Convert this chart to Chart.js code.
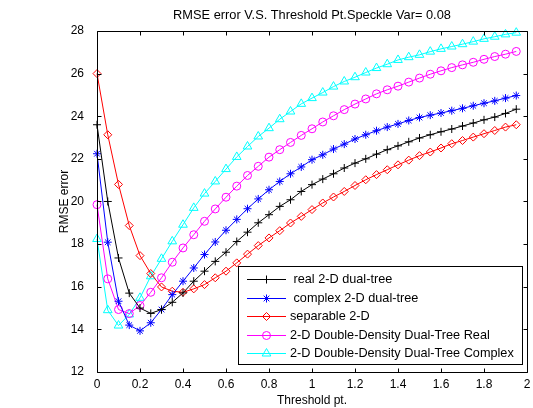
<!DOCTYPE html>
<html>
<head>
<meta charset="utf-8">
<script src="https://cdn.jsdelivr.net/npm/chart.js"></script>
<style>
  html, body { margin: 0; padding: 0; background: #fff; }
  canvas { display: block; }
</style>
</head>
<body>
<canvas id="chart_rmse" width="533" height="408"></canvas>
<script>
// threshold points (x) and RMSE per method
const thresholds = [0, 0.05, 0.1, 0.15, 0.2, 0.25, 0.3, 0.35, 0.4, 0.45,
  0.5, 0.55, 0.6, 0.65, 0.7, 0.75, 0.8, 0.85, 0.9, 0.95,
  1, 1.05, 1.1, 1.15, 1.2, 1.25, 1.3, 1.35, 1.4, 1.45,
  1.5, 1.55, 1.6, 1.65, 1.7, 1.75, 1.8, 1.85, 1.9, 1.95];

const realDualTree = [23.6, 20.0, 17.35, 15.7, 15.0, 14.75, 14.93, 15.27, 15.71, 16.26,
  16.73, 17.19, 17.62, 18.12, 18.56, 19.0, 19.38, 19.77, 20.08, 20.47,
  20.79, 21.05, 21.3, 21.57, 21.8, 22.0, 22.22, 22.43, 22.61, 22.8,
  22.98, 23.13, 23.27, 23.4, 23.54, 23.68, 23.83, 23.96, 24.13, 24.33];

const complexDualTree = [22.24, 18.09, 15.32, 14.2, 13.93, 14.31, 14.93, 15.63, 16.26, 16.88,
  17.51, 18.1, 18.65, 19.16, 19.66, 20.12, 20.55, 20.94, 21.3, 21.62,
  21.96, 22.19, 22.46, 22.69, 22.93, 23.13, 23.32, 23.49, 23.64, 23.8,
  23.94, 24.05, 24.15, 24.26, 24.37, 24.49, 24.61, 24.72, 24.85, 24.97];

const separable2D = [26.0, 23.13, 20.8, 18.87, 17.46, 16.62, 15.99, 15.79, 15.74, 15.9,
  16.1, 16.42, 16.73, 17.12, 17.53, 17.93, 18.29, 18.63, 18.99, 19.3,
  19.62, 19.93, 20.21, 20.47, 20.75, 21.02, 21.26, 21.49, 21.72, 21.94,
  22.15, 22.32, 22.51, 22.71, 22.86, 23.02, 23.18, 23.33, 23.49, 23.6];

const ddReal = [19.85, 16.37, 14.93, 14.74, 15.12, 15.74, 16.42, 17.15, 17.82, 18.44,
  19.07, 19.65, 20.2, 20.72, 21.22, 21.65, 22.08, 22.43, 22.77, 23.1,
  23.41, 23.73, 24.02, 24.31, 24.57, 24.81, 25.05, 25.24, 25.41, 25.6,
  25.79, 25.97, 26.13, 26.28, 26.41, 26.53, 26.67, 26.8, 26.91, 27.04];

const ddComplex = [18.24, 14.9, 14.18, 14.7, 15.48, 16.49, 17.31, 18.13, 18.91, 19.7,
  20.37, 20.94, 21.52, 22.09, 22.58, 23.05, 23.44, 23.86, 24.22, 24.58,
  24.85, 25.11, 25.39, 25.63, 25.83, 26.05, 26.26, 26.44, 26.64, 26.77,
  26.88, 27.03, 27.16, 27.27, 27.38, 27.5, 27.63, 27.73, 27.84, 27.92];

const seriesLabels = [' real 2-D dual-tree', ' complex 2-D dual-tree', 'separable 2-D',
  '2-D Double-Density Dual-Tree Real', '2-D Double-Density Dual-Tree Complex'];

const xTickLabels = ['0', '0.2', '0.4', '0.6', '0.8', '1', '1.2', '1.4', '1.6', '1.8', '2'];
const yTickLabels = ['12', '14', '16', '18', '20', '22', '24', '26', '28'];

const FONT = '"Liberation Sans", Arial, sans-serif';

function pts(values) {
  return values.map((v, i) => ({ x: thresholds[i], y: v }));
}

function series(label, values, color, style, radius) {
  return {
    label: label,
    data: pts(values),
    borderColor: color,
    backgroundColor: color,
    borderWidth: 1,
    pointStyle: style,
    pointRadius: radius,
    pointBorderWidth: 1,
    pointBorderColor: color,
    pointBackgroundColor: 'rgba(0,0,0,0)',
    tension: 0,
    fill: false,
    clip: false
  };
}

// MATLAB style frame with inward ticks on all four sides
const boxTicks = {
  id: 'boxTicks',
  afterDatasetsDraw(chart) {
    const { ctx, chartArea: a, scales: { x, y } } = chart;
    const L = Math.round(a.left) + 0.5, R = Math.round(a.right) + 0.5;
    const T = Math.round(a.top) + 0.5, B = Math.round(a.bottom) + 0.5;
    ctx.save();
    ctx.strokeStyle = '#000';
    ctx.lineWidth = 1;
    ctx.beginPath();
    ctx.rect(L, T, R - L, B - T);
    x.ticks.forEach(t => {
      const px = Math.round(x.getPixelForValue(t.value)) + 0.5;
      ctx.moveTo(px, B); ctx.lineTo(px, B - 4);
      ctx.moveTo(px, T); ctx.lineTo(px, T + 4);
    });
    y.ticks.forEach(t => {
      const py = Math.round(y.getPixelForValue(t.value)) + 0.5;
      ctx.moveTo(L, py); ctx.lineTo(L + 4, py);
      ctx.moveTo(R, py); ctx.lineTo(R - 4, py);
    });
    ctx.stroke();
    ctx.restore();
  }
};

// boxed legend in the lower right corner of the axes
const boxLegend = {
  id: 'boxLegend',
  afterDatasetsDraw(chart) {
    const { ctx, chartArea: a } = chart;
    const w = 284, h = 98;
    const left = Math.round(a.right - 5 - w), top = Math.round(a.bottom - 8 - h);
    ctx.save();
    ctx.fillStyle = '#fff';
    ctx.fillRect(left, top, w, h);
    ctx.strokeStyle = '#000';
    ctx.lineWidth = 1;
    ctx.strokeRect(left + 0.5, top + 0.5, w, h);
    ctx.font = '12.7px ' + FONT;
    ctx.textBaseline = 'middle';
    ctx.textAlign = 'left';
    const drawPoint = Chart.helpers && Chart.helpers.drawPoint;
    chart.data.datasets.forEach((ds, i) => {
      const cy = Math.round(top + 13 + i * 18.6) + 0.5;
      ctx.strokeStyle = ds.borderColor;
      ctx.lineWidth = 1;
      ctx.beginPath();
      ctx.moveTo(left + 9, cy);
      ctx.lineTo(left + 48, cy);
      ctx.stroke();
      if (drawPoint) {
        ctx.fillStyle = 'rgba(0,0,0,0)';
        drawPoint(ctx, { pointStyle: ds.pointStyle, radius: ds.pointRadius, borderWidth: 1, rotation: 0 },
          left + 28.5, cy);
      }
      ctx.fillStyle = '#000';
      ctx.fillText(ds.label, left + 52, cy);
    });
    ctx.restore();
  }
};

new Chart(document.getElementById('chart_rmse'), {
  type: 'line',
  data: {
    datasets: [
      series(seriesLabels[0], realDualTree, '#000000', 'cross', 4),
      series(seriesLabels[1], complexDualTree, '#0000ff', 'star', 4),
      series(seriesLabels[2], separable2D, '#ff0000', 'rectRot', 4),
      series(seriesLabels[3], ddReal, '#ff00ff', 'circle', 4),
      series(seriesLabels[4], ddComplex, '#00ffff', 'triangle', 5)
    ]
  },
  options: {
    responsive: false,
    animation: false,
    devicePixelRatio: 1,
    layout: { padding: { left: 0, right: 5, top: 0, bottom: 0 } },
    plugins: {
      legend: { display: false },
      tooltip: { enabled: false },
      title: {
        display: true,
        fullSize: false,
        text: 'RMSE error V.S. Threshold Pt.Speckle Var= 0.08',
        color: '#000',
        font: { family: FONT, size: 12.8, weight: 'normal' },
        padding: { top: 8, bottom: 7.6 }
      }
    },
    scales: {
      x: {
        type: 'linear',
        min: 0,
        max: 2,
        // invisible tick marks only push the labels down
        grid: { display: true, drawOnChartArea: false, drawTicks: true, tickLength: 4, color: 'rgba(0,0,0,0)' },
        border: { display: false },
        ticks: {
          stepSize: 0.2,
          autoSkip: false,
          maxRotation: 0,
          padding: 1,
          color: '#000',
          font: { family: FONT, size: 12 },
          callback: (value, index) => xTickLabels[index]
        },
        title: {
          display: true,
          text: 'Threshold pt.',
          color: '#000',
          font: { family: FONT, size: 12 },
          padding: { top: 0, bottom: 0 }
        },
        afterFit(scale) { scale.height = 36; }
      },
      y: {
        type: 'linear',
        min: 12,
        max: 28,
        grid: { display: false },
        border: { display: false },
        ticks: {
          stepSize: 2,
          autoSkip: false,
          padding: 5,
          color: '#000',
          font: { family: FONT, size: 12 },
          callback: (value, index) => yTickLabels[index]
        },
        title: {
          display: true,
          text: 'RMSE error',
          color: '#000',
          font: { family: FONT, size: 12 },
          padding: { top: 57, bottom: 0 }
        },
        afterFit(scale) { scale.width = 97; }
      }
    }
  },
  plugins: [boxTicks, boxLegend]
});
</script>
</body>
</html>
